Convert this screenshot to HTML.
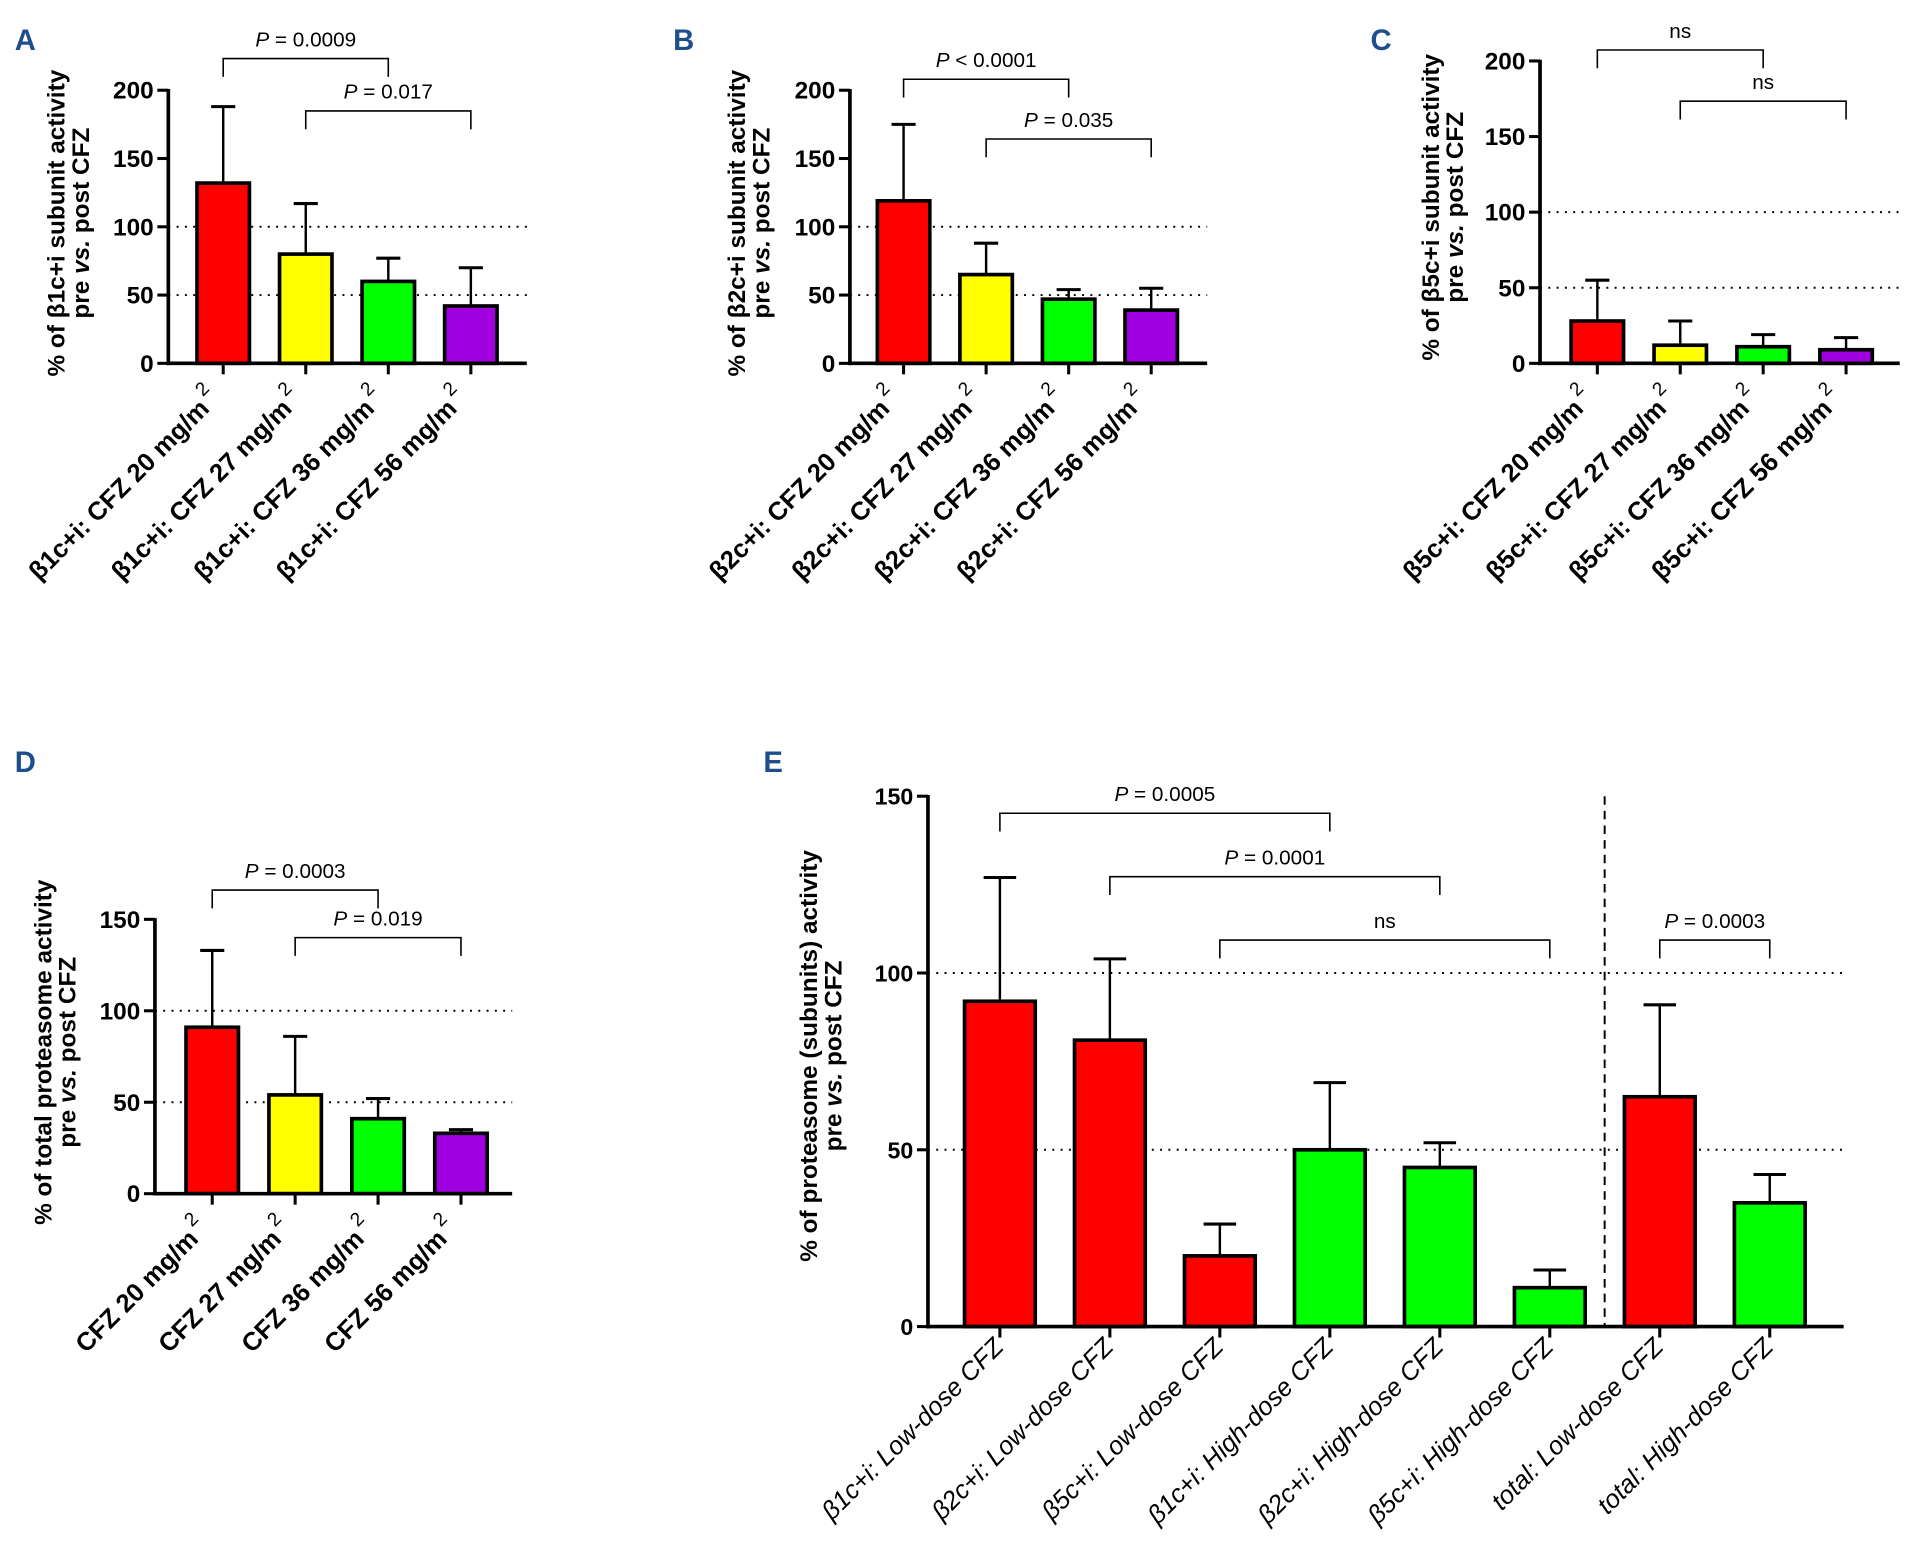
<!DOCTYPE html>
<html><head><meta charset="utf-8"><style>
html,body{margin:0;padding:0;background:#fff;}
svg{display:block;font-family:"Liberation Sans",sans-serif;}
</style></head><body>
<svg id="fig" width="1912" height="1568" viewBox="0 0 1568 1286"></svg>
<script>
const aCats=["β1c+i: CFZ 20 mg/m","β1c+i: CFZ 27 mg/m","β1c+i: CFZ 36 mg/m","β1c+i: CFZ 56 mg/m"];
const aVals=[132,80,60,42];
const aErr=[188,117,77,70];
const bCats=["β2c+i: CFZ 20 mg/m","β2c+i: CFZ 27 mg/m","β2c+i: CFZ 36 mg/m","β2c+i: CFZ 56 mg/m"];
const bVals=[119,65,47,39];
const bErr=[175,88,54,55];
const cCats=["β5c+i: CFZ 20 mg/m","β5c+i: CFZ 27 mg/m","β5c+i: CFZ 36 mg/m","β5c+i: CFZ 56 mg/m"];
const cVals=[28,12,11,9];
const cErr=[55,28,19,17];
const dCats=["CFZ 20 mg/m","CFZ 27 mg/m","CFZ 36 mg/m","CFZ 56 mg/m"];
const dVals=[91,54,41,33];
const dErr=[133,86,52,35];
const eCats=["β1c+i: Low-dose CFZ","β2c+i: Low-dose CFZ","β5c+i: Low-dose CFZ","β1c+i: High-dose CFZ","β2c+i: High-dose CFZ","β5c+i: High-dose CFZ","total: Low-dose CFZ","total: High-dose CFZ"];
const eVals=[92,81,20,50,45,11,65,35];
const eErr=[127,104,29,69,52,16,91,43];
const ticks200=[0,50,100,150,200];
const ticks150=[0,50,100,150];
const dose4Colors=["#ff0000","#ffff00","#00ff00","#a000e0"];
const eColors=["#ff0000","#ff0000","#ff0000","#00ff00","#00ff00","#00ff00","#ff0000","#00ff00"];

const NS="http://www.w3.org/2000/svg";
const svg=document.getElementById('fig');
function mk(tag,attrs,parent,text){const e=document.createElementNS(NS,tag);for(const k in attrs)e.setAttribute(k,attrs[k]);if(text!==undefined)e.textContent=text;(parent||svg).appendChild(e);return e;}

function panel(o){
  const g=mk('g',{});
  
  
  const y=v=>o.y0-(v/o.max)*(o.y0-o.yTop);
  const x=i=>o.x0+i*o.step;
  [50,100].forEach(v=>{const l=mk('line',{x1:o.ax,x2:o.axEnd,y1:y(v),y2:y(v),stroke:'#000','stroke-width':1.6,'stroke-dasharray':'1.6 5.2'},g);
    });
  o.vals.forEach((v,i)=>{
    const ex=mk('line',{x1:x(i),x2:x(i),y1:y(v),y2:y(o.err[i]),stroke:'#000','stroke-width':2},g);
    
    const cw=o.bw*0.23;
    const ec=mk('line',{x1:x(i)-cw,x2:x(i)+cw,y1:y(o.err[i]),y2:y(o.err[i]),stroke:'#000','stroke-width':2.5},g);
    
    const r=mk('rect',{x:x(i)-o.bw/2,y:y(v),width:o.bw,height:o.y0-y(v),fill:o.colors[i],stroke:'#000','stroke-width':3},g);
    
    const t=mk('line',{x1:x(i),x2:x(i),y1:o.y0,y2:o.y0+9,stroke:'#000','stroke-width':2.5},g);
    
    const lx=x(i)+(o.sup?-2:4),ly=o.y0+(o.sup?30:18);
    const tx=mk('text',{x:lx,y:ly,'text-anchor':'end',transform:`rotate(-45 ${lx} ${ly})`,'font-size':o.lfs,'font-weight':o.italic?'normal':'bold','font-style':o.italic?'italic':'normal'},g,o.cats[i]);
    if(o.sup){mk('tspan',{dx:3,dy:-12,'font-size':o.lfs*0.75,'font-weight':'normal'},tx,'2');}
    
  });
  const ya=mk('line',{x1:o.ax,x2:o.ax,y1:o.yTop-1,y2:o.y0+1.5,stroke:'#000','stroke-width':3},g);
  
  const xa=mk('line',{x1:o.ax-1.5,x2:o.axEnd,y1:o.y0,y2:o.y0,stroke:'#000','stroke-width':3},g);
  
  o.ticks.forEach(v=>{
    const tl=mk('line',{x1:o.ax-9,x2:o.ax,y1:y(v),y2:y(v),stroke:'#000','stroke-width':2.5},g);
    
    const tt=mk('text',{x:o.ax-12,y:y(v)+7,'text-anchor':'end','font-size':o.tfs,'font-weight':'bold'},g,String(v));
    
  });
  const cy=o.titleY;
  const t1=mk('text',{x:o.titleX,y:cy,'text-anchor':'middle',transform:`rotate(-90 ${o.titleX} ${cy})`,'font-size':20,'font-weight':'bold'},g,o.title1);
  
  const t2=mk('text',{x:o.titleX+20,y:cy,'text-anchor':'middle',transform:`rotate(-90 ${o.titleX+20} ${cy})`,'font-size':20,'font-weight':'bold'},g);
  mk('tspan',{},t2,'pre ');mk('tspan',{'font-style':'italic'},t2,'vs.');mk('tspan',{},t2,' post CFZ');
  
  o.brackets.forEach(b=>{
    const x1=x(b[0]),x2=x(b[1]),by=b[2];
    const p=mk('path',{d:`M${x1} ${by+15}V${by}H${x2}V${by+15}`,fill:'none',stroke:'#000','stroke-width':1.3},g);
    
    const t=mk('text',{x:(x1+x2)/2,y:by-10,'text-anchor':'middle','font-size':17},g);
    if(b[3]==='ns'){t.textContent='ns';}else{mk('tspan',{'font-style':'italic'},t,'P');mk('tspan',{},t,' '+b[3]);}
    
  });
  const L=mk('text',{x:o.letter[0],y:o.letter[1],'font-size':24,'font-weight':'bold',fill:'#1f4e8c'},g,o.letter[2]);
  
  return g;
}

panel({name:'panel-a',cats:aCats,vals:aVals,err:aErr,colors:dose4Colors,ax:138,axEnd:432,y0:298,yTop:74,max:200,ticks:ticks200,x0:183,step:67.7,bw:43,lfs:21,tfs:20,sup:true,
 title1:'% of β1c+i subunit activity',titleX:53,titleY:183,letter:[12,41,'A'],
 brackets:[[0,2,48,'= 0.0009'],[1,3,91,'= 0.017']]});
panel({name:'panel-b',cats:bCats,vals:bVals,err:bErr,colors:dose4Colors,ax:697,axEnd:990,y0:298,yTop:74,max:200,ticks:ticks200,x0:741,step:67.7,bw:43,lfs:21,tfs:20,sup:true,
 title1:'% of β2c+i subunit activity',titleX:611,titleY:183,letter:[552,41,'B'],
 brackets:[[0,2,65,'< 0.0001'],[1,3,114,'= 0.035']]});
panel({name:'panel-c',cats:cCats,vals:cVals,err:cErr,colors:dose4Colors,ax:1263,axEnd:1558,y0:298,yTop:50,max:200,ticks:ticks200,x0:1310,step:68,bw:43,lfs:21,tfs:20,sup:true,
 title1:'% of β5c+i subunit activity',titleX:1180,titleY:170,letter:[1124,41,'C'],
 brackets:[[0,2,41,'ns'],[1,3,83,'ns']]});
panel({name:'panel-d',cats:dCats,vals:dVals,err:dErr,colors:dose4Colors,ax:127,axEnd:420,y0:979,yTop:754,max:150,ticks:ticks150,x0:174,step:68,bw:43,lfs:21,tfs:20,sup:true,
 title1:'% of total proteasome activity',titleX:42,titleY:863,letter:[12,633,'D'],
 brackets:[[0,2,730,'= 0.0003'],[1,3,769,'= 0.019']]});
const ge=panel({name:'panel-e',cats:eCats,vals:eVals,err:eErr,colors:eColors,ax:761,axEnd:1512,y0:1088,yTop:653,max:150,ticks:ticks150,x0:820,step:90.2,bw:58,lfs:21,tfs:19,sup:false,italic:true,
 title1:'% of proteasome (subunits) activity',titleX:670,titleY:866,letter:[626,633,'E'],
 brackets:[[0,3,667,'= 0.0005'],[1,4,719,'= 0.0001'],[2,5,771,'ns'],[6,7,771,'= 0.0003']]});
const dv=mk('line',{x1:1316,x2:1316,y1:653,y2:1088,stroke:'#000','stroke-width':1.6,'stroke-dasharray':'7 5'},ge);


</script>
</body></html>
